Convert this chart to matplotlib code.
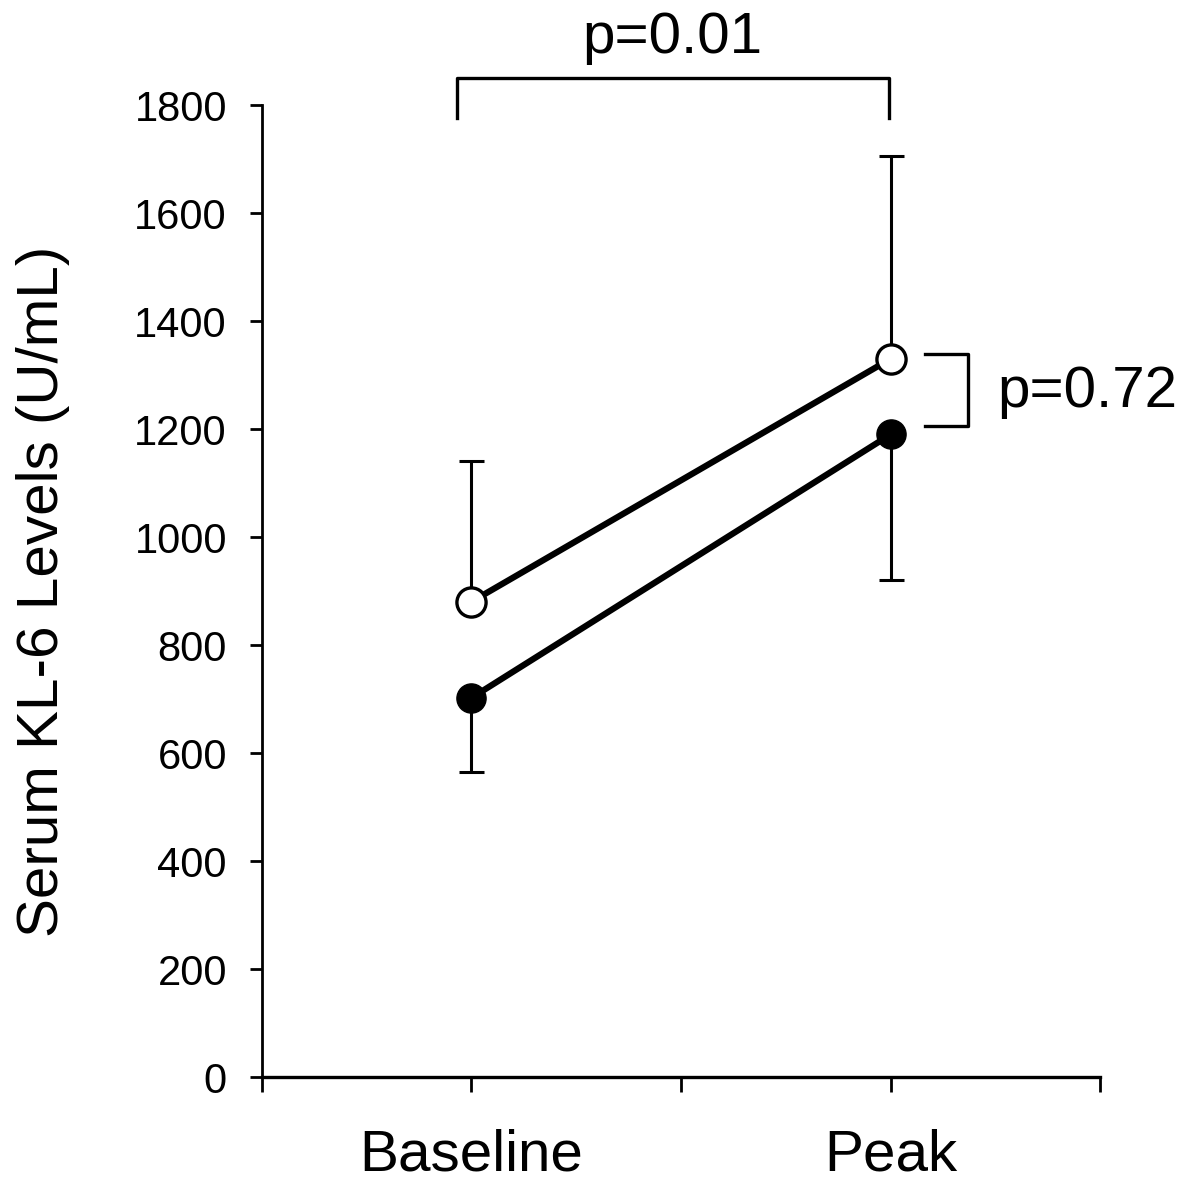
import matplotlib
matplotlib.use('Agg')
import matplotlib.pyplot as plt
import numpy as np

plt.rcParams['font.family'] = ['Liberation Sans', 'DejaVu Sans']

# dados
x_pos = [1, 3]
x_labels = ['Baseline', 'Peak']
open_media = [880, 1330]
open_sd_sup = [260, 375]
fech_media = [702, 1190]
fech_sd_inf = [137, 270]

fig = plt.figure(figsize=(12, 11.88), dpi=100)
ax = fig.add_axes([0.218, 0.0934, 0.699, 0.8182])

ax.errorbar(x_pos, open_media, yerr=[[0, 0], open_sd_sup], fmt='none',
            ecolor='black', elinewidth=2.2, capsize=9, capthick=2.2, zorder=2)
ax.errorbar(x_pos, fech_media, yerr=[fech_sd_inf, [0, 0]], fmt='none',
            ecolor='black', elinewidth=2.2, capsize=9, capthick=2.2, zorder=2)

ax.plot(x_pos, open_media, color='black', lw=4.5, marker='o', markersize=21,
        markerfacecolor='white', markeredgecolor='black', markeredgewidth=2.4, zorder=3)
ax.plot(x_pos, fech_media, color='black', lw=4.5, marker='o', markersize=21,
        markerfacecolor='black', markeredgecolor='black', zorder=3)

ax.set_xlim(0, 4)
ax.set_ylim(0, 1800)
ax.set_xticks([0, 1, 2, 3, 4])
ax.set_xticklabels(['', x_labels[0], '', x_labels[1], ''], fontsize=42)
ax.set_yticks(np.arange(0, 1801, 200))
ax.tick_params(axis='y', labelsize=30, length=9, width=2, pad=16)
ax.tick_params(axis='x', length=11, width=2, pad=26)

ax.spines['top'].set_visible(False)
ax.spines['right'].set_visible(False)
ax.spines['left'].set_linewidth(2)
ax.spines['bottom'].set_linewidth(2.4)

ax.set_ylabel('Serum KL-6 Levels (U/mL)', fontsize=42, labelpad=46)

# colchete superior
ax.plot([0.933, 0.933, 2.993, 2.993], [1776, 1850, 1850, 1776], color='black',
        lw=2.4, clip_on=False)
ax.text(1.96, 1925, 'p=0.01', fontsize=42, ha='center', va='center')

# colchete lateral
ax.plot([3.165, 3.37, 3.37, 3.165], [1339, 1339, 1205, 1205], color='black',
        lw=2.4, clip_on=False)
ax.text(3.51, 1268, 'p=0.72', fontsize=42, ha='left', va='center', clip_on=False)

fig.savefig('out.png', dpi=100)
